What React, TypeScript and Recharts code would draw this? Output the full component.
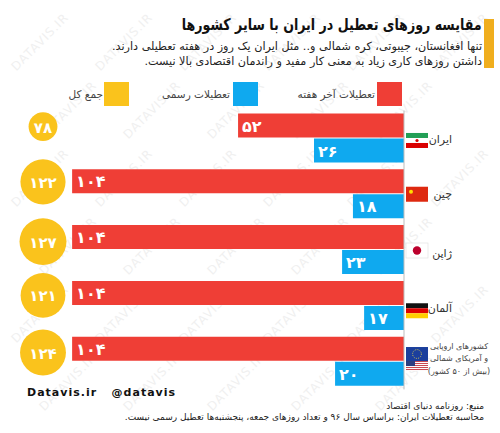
import { Bar, BarChart, LabelList, Legend, XAxis, YAxis } from 'recharts';

const FONT = '"DejaVu Sans", sans-serif';
const RED = '#ef3e36';
const BLUE = '#0fa9ef';
const YELLOW = '#fac31c';

const countries = ['ایران', 'چین', 'ژاپن', 'آلمان', 'اروپا و آمریکا'];
const weekendDays = [52, 104, 104, 104, 104];
const officialDays = [26, 18, 23, 17, 20];
const officialBarLength = [28.2, 16, 19.4, 12.5, 21.6];
const totalDays = [78, 122, 127, 121, 124];
const legendLabels = ['تعطیلات آخر هفته', 'تعطیلات رسمی', 'جمع کل'];
const westernLines = ['کشورهای اروپایی', 'و آمریکای شمالی', '(بیش از ۵۰ کشور)'];

const data = countries.map((name, i) => ({
  name,
  weekend: weekendDays[i],
  official: officialBarLength[i],
  officialLabel: officialDays[i],
  total: totalDays[i],
}));

const toFa = (n: number) => String(n).replace(/\d/g, (d) => '۰۱۲۳۴۵۶۷۸۹'[Number(d)]);

const TOTAL_CX = 43;
const totalNudge = [-11.5, -12, -8, -10, -8.6];

function TotalCircle(props: any) {
  const { y, height, index, payload } = props;
  const cy = y + height / 2 + totalNudge[index];
  return (
    <g>
      <circle cx={TOTAL_CX} cy={cy} r={payload.total * 0.185} fill={YELLOW} />
      <text x={TOTAL_CX} y={cy + 6} textAnchor="middle" fill="#fff" fontFamily={FONT} fontWeight={700} fontSize={15}>
        {toFa(payload.total)}
      </text>
    </g>
  );
}

function BarLabel(props: any) {
  const { x, y, width, height, value } = props;
  const left = width < 0 ? x + width : x;
  return (
    <text x={left + 4} y={y + height / 2 + 6} fill="#fff" fontFamily={FONT} fontWeight={700} fontSize={16}>
      {toFa(value)}
    </text>
  );
}

function Flag({ index }: { index: number }) {
  if (index === 0) {
    return (
      <g>
        <rect width={22} height={15} fill="#fff" />
        <rect width={22} height={5} fill="#239f56" />
        <rect y={10} width={22} height={5} fill="#da0000" />
        <circle cx={11} cy={7.5} r={1.6} fill="#da0000" />
      </g>
    );
  }
  if (index === 1) {
    return (
      <g>
        <rect width={22} height={15} fill="#de2910" />
        <circle cx={5} cy={5} r={2} fill="#ffde00" />
      </g>
    );
  }
  if (index === 2) {
    return (
      <g>
        <rect width={22} height={15} fill="#fff" stroke="#ddd" strokeWidth={0.6} />
        <circle cx={11} cy={7.5} r={4.2} fill="#bc002d" />
      </g>
    );
  }
  if (index === 3) {
    return (
      <g>
        <rect width={22} height={5} fill="#111" />
        <rect y={5} width={22} height={5} fill="#dd0000" />
        <rect y={10} width={22} height={5} fill="#ffce00" />
      </g>
    );
  }
  return (
    <g>
      <rect y={-1} width={22} height={14} fill="#1b3f9c" />
      <circle cx={11} cy={6} r={4.4} fill="none" stroke="#e8d44a" strokeWidth={0.9} strokeDasharray="1 1.3" />
      <g transform="translate(0,13)">
        <rect width={22} height={10} fill="#fff" />
        {[0, 2, 4, 6, 8].map((s) => (
          <rect key={s} y={s} width={22} height={1} fill="#c8474f" />
        ))}
        <rect width={9} height={5} fill="#2c3f80" />
      </g>
    </g>
  );
}

const flagOffset = [2, 0, 0.5, 5, -6];
const nameOffset = [5, 4, 7, 6];

function CountryTick(props: any) {
  const { y, index, payload } = props;
  const fy = y + flagOffset[index];
  return (
    <g>
      <g transform={`translate(406,${fy - 7.5})`}>
        <Flag index={index} />
      </g>
      {index < 4 ? (
        <text x={452} y={y + nameOffset[index]} textAnchor="start" fontFamily={FONT} fontSize={11} fill="#333" direction="rtl">
          {payload.value}
        </text>
      ) : (
        westernLines.map((line, i) => (
          <text
            key={line}
            x={459}
            y={y - 12.6 + i * 12.5}
            textAnchor="middle"
            fontFamily={FONT}
            fontSize={8}
            fill="#444"
            direction="rtl"
          >
            {line}
          </text>
        ))
      )}
    </g>
  );
}

function ChartLegend() {
  const swatches = [
    { color: RED, left: 377, textRight: 125 },
    { color: BLUE, left: 233, textRight: 270 },
    { color: YELLOW, left: 104, textRight: 397 },
  ];
  return (
    <div style={{ position: 'relative', width: 500, height: 0 }}>
      {swatches.map((s, i) => (
        <div key={s.color}>
          <div style={{ position: 'absolute', left: s.left, top: 82, width: 25, height: 24, background: s.color }} />
          <div
            style={{
              position: 'absolute',
              right: s.textRight,
              top: 88,
              font: `10.5px ${FONT}`,
              color: '#444',
              direction: 'rtl',
              whiteSpace: 'nowrap',
            }}
          >
            {legendLabels[i]}
          </div>
        </div>
      ))}
    </div>
  );
}

function Watermark() {
  const marks = [];
  for (let row = 0; row < 6; row++) {
    for (let col = 0; col < 6; col++) {
      const cx = 40 + col * 84 + (row % 2) * 28;
      const cy = 42 + row * 68;
      if (cx > 460) continue;
      marks.push(
        <div
          key={`${row}-${col}`}
          style={{
            position: 'absolute',
            left: cx,
            top: cy,
            transform: 'translate(-50%,-50%) rotate(-45deg)',
            font: `12px ${FONT}`,
            letterSpacing: 1,
            color: '#f0f0f0',
            whiteSpace: 'nowrap',
          }}
        >
          DATAVIS.IR
        </div>,
      );
    }
  }
  return <>{marks}</>;
}

const textRow = (top: number, size: number, weight = 400): React.CSSProperties => ({
  position: 'absolute',
  right: 18,
  top,
  font: `${weight} ${size}px ${FONT}`,
  color: '#222',
  direction: 'rtl',
  whiteSpace: 'nowrap',
});

export default function App() {
  return (
    <div style={{ position: 'absolute', left: 0, top: 0, width: 500, height: 433, overflow: 'hidden', background: '#fff' }}>
      <Watermark />
      <div style={{ position: 'absolute', left: 484, top: 19, width: 10, height: 49, background: '#f0ae1e' }} />
      <div style={{ ...textRow(15, 16, 700), transform: 'scaleX(0.79)', transformOrigin: 'right center', color: '#111' }}>
        مقایسه روزهای تعطیل در ایران با سایر کشورها
      </div>
      <div style={textRow(40, 11.2)}>تنها افغانستان، جیبوتی، کره شمالی و.. مثل ایران یک روز در هفته تعطیلی دارند.</div>
      <div style={textRow(54.5, 11.2)}>داشتن روزهای کاری زیاد به معنی کار مفید و راندمان اقتصادی بالا نیست.</div>
      <div style={{ position: 'absolute', left: 0, top: 0 }}>
        <BarChart
          width={500}
          height={433}
          data={data}
          layout="vertical"
          barSize={24}
          barGap={1}
          margin={{ top: 110.6, right: 0, bottom: 43.6, left: 0 }}
        >
          <XAxis type="number" xAxisId="days" domain={[0, 126.6]} reversed hide />
          <XAxis type="number" xAxisId="totals" domain={[0, 126.6]} reversed hide />
          <YAxis
            type="category"
            yAxisId="days"
            dataKey="name"
            orientation="right"
            width={96}
            axisLine={{ stroke: '#bdbdbd' }}
            tickLine={false}
            interval={0}
            tick={<CountryTick />}
          />
          <YAxis type="category" yAxisId="totals" dataKey="name" orientation="right" width={0} hide />
          <Legend
            content={<ChartLegend />}
            wrapperStyle={{ left: 0, top: 0, bottom: 'auto', width: 500, height: 0 }}
          />
          <Bar dataKey="total" xAxisId="totals" yAxisId="totals" barSize={49} isAnimationActive={false} shape={<TotalCircle />} />
          <Bar dataKey="weekend" xAxisId="days" yAxisId="days" fill={RED} isAnimationActive={false}>
            <LabelList dataKey="weekend" content={<BarLabel />} />
          </Bar>
          <Bar dataKey="official" xAxisId="days" yAxisId="days" fill={BLUE} isAnimationActive={false}>
            <LabelList dataKey="officialLabel" content={<BarLabel />} />
          </Bar>
        </BarChart>
      </div>
      <div
        style={{
          position: 'absolute',
          left: 27,
          top: 386,
          font: `700 11px ${FONT}`,
          letterSpacing: 1,
          color: '#111',
          whiteSpace: 'pre',
        }}
      >
        {'Datavis.ir   @datavis'}
      </div>
      <div style={{ ...textRow(401, 9), right: 16 }}>منبع: روزنامه دنیای اقتصاد</div>
      <div style={{ ...textRow(412, 9), right: 16 }}>محاسبه تعطیلات ایران: براساس سال ۹۶ و تعداد روزهای جمعه، پنجشنبه‌ها تعطیل رسمی نیست.</div>
    </div>
  );
}
